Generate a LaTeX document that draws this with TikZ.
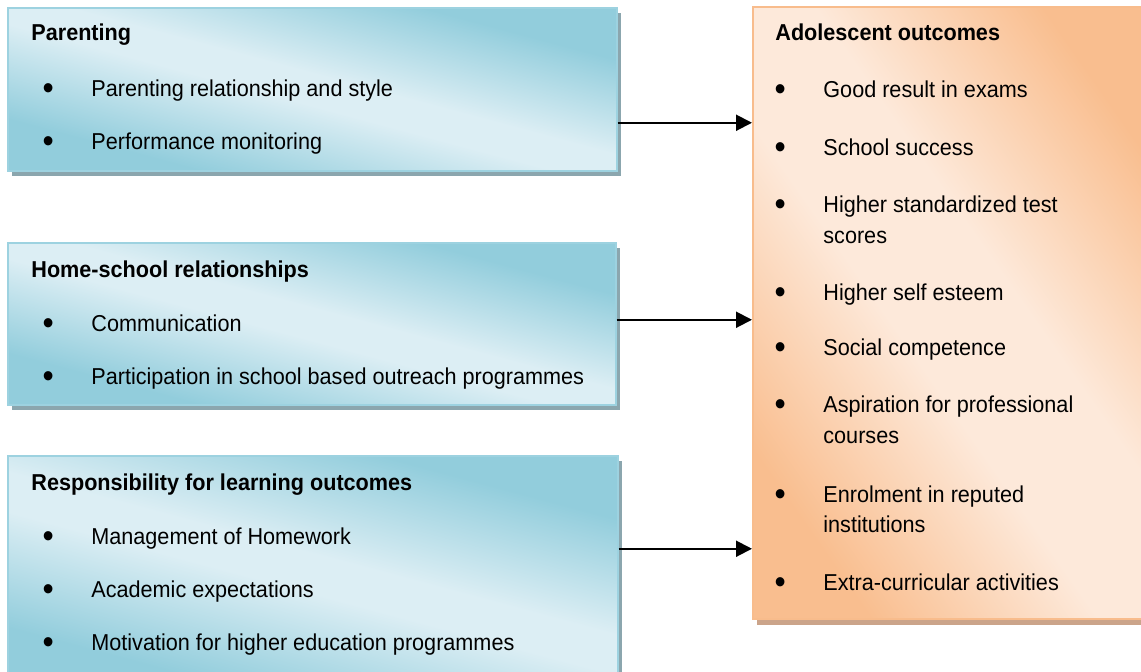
\documentclass[tikz,border=0pt]{standalone}
\usepackage{fontspec}
\setmainfont{Liberation Sans}[FakeStretch=0.94]
\usetikzlibrary{shadows,arrows.meta}

\definecolor{aquadark}{HTML}{92CDDC}
\definecolor{aqualight}{HTML}{DCEEF4}
\definecolor{aquaedge}{HTML}{9DD2E0}
\definecolor{aquashadow}{HTML}{8BA6AE}
\definecolor{orangedark}{HTML}{F9BE8F}
\definecolor{orangelight}{HTML}{FDE9DA}
\definecolor{orangeedge}{HTML}{F8BC8C}
\definecolor{orangeshadow}{HTML}{CBA48A}

\pgfdeclareverticalshading{aquashade}{100bp}{color(0bp)=(aquadark); color(29bp)=(aquadark);
  color(47bp)=(aqualight); color(53bp)=(aqualight); color(71bp)=(aquadark); color(100bp)=(aquadark)}
\pgfdeclareverticalshading{orangeshade}{100bp}{color(0bp)=(orangedark); color(25bp)=(orangedark);
  color(44bp)=(orangelight); color(56bp)=(orangelight); color(75bp)=(orangedark); color(100bp)=(orangedark)}

\begin{document}
\begin{tikzpicture}[x=0.5pt,y=-0.5pt,
  every node/.style={font=\fontsize{11.5}{14}\selectfont},
  box/.style={anchor=north west, inner sep=0, line width=0.75pt},
  bluebox/.style={box, draw=aquaedge, shade, shading=aquashade, shading angle=-15,
    drop shadow={shadow xshift=2pt, shadow yshift=-2.5pt, fill=aquashadow, opacity=1}},
  orangebox/.style={box, draw=orangeedge, shade, shading=orangeshade, shading angle=-55,
    drop shadow={shadow xshift=2pt, shadow yshift=-3pt, fill=orangeshadow, opacity=1}},
  head/.style={anchor=base west, inner sep=0, font=\fontsize{11.5}{14}\selectfont\bfseries},
  item/.style={anchor=base west, inner sep=0,
    execute at begin node={\llap{\raisebox{-1.6pt}{\fontsize{17}{17}\selectfont\textbullet}\hspace{18.8pt}}}},
  cont/.style={anchor=base west, inner sep=0},
  arr/.style={line width=1pt, -{Triangle[length=8pt,width=8pt]}}]

  \useasboundingbox (0,0) rectangle (1141,671);

  % left boxes
  \node[bluebox, minimum width=304.5pt, minimum height=81.5pt] (parenting) at (7,7) {};
  \node[bluebox, minimum width=304pt, minimum height=81pt] (homeschool) at (7,242) {};
  \node[bluebox, minimum width=305pt, minimum height=117.5pt] (learning) at (7,455) {};

  % right box
  \node[orangebox, minimum width=204pt, minimum height=306pt] (outcomes) at (752,6) {};

  % texts
  \node[head] (parentingT) at (31,40) {Parenting};
  \node[item] (parenting1) at (91,96) {Parenting relationship and style};
  \node[item] (parenting2) at (91,149) {Performance monitoring};

  \node[head] (homeschoolT) at (31,277) {Home-school relationships};
  \node[item] (homeschool1) at (91,331) {Communication};
  \node[item] (homeschool2) at (91,384) {Participation in school based outreach programmes};

  \node[head] (learningT) at (31,490) {Responsibility for learning outcomes};
  \node[item] (learning1) at (91,544) {Management of Homework};
  \node[item] (learning2) at (91,597) {Academic expectations};
  \node[item] (learning3) at (91,650) {Motivation for higher education programmes};

  \node[head] (outcomesT) at (775,40) {Adolescent outcomes};
  \node[item] (outcomes1) at (823,97) {Good result in exams};
  \node[item] (outcomes2) at (823,155) {School success};
  \node[item] (outcomes3) at (823,212) {Higher standardized test};
  \node[cont] (outcomes3b) at (823,243) {scores};
  \node[item] (outcomes4) at (823,300) {Higher self esteem};
  \node[item] (outcomes5) at (823,355) {Social competence};
  \node[item] (outcomes6) at (823,412) {Aspiration for professional};
  \node[cont] (outcomes6b) at (823,443) {courses};
  \node[item] (outcomes7) at (823,502) {Enrolment in reputed};
  \node[cont] (outcomes7b) at (823,532) {institutions};
  \node[item] (outcomes8) at (823,590) {Extra-curricular activities};

  % arrows
  \coordinate (parentingOut) at ([yshift=-16.75pt]parenting.east);
  \coordinate (homeschoolOut) at ([yshift=2pt]homeschool.east);
  \coordinate (learningOut) at ([yshift=12.25pt]learning.east);

  \draw[arr] (parentingOut) -- (parentingOut -| outcomes.west);
  \draw[arr] (homeschoolOut) -- (homeschoolOut -| outcomes.west);
  \draw[arr] (learningOut) -- (learningOut -| outcomes.west);

\end{tikzpicture}
\end{document}
